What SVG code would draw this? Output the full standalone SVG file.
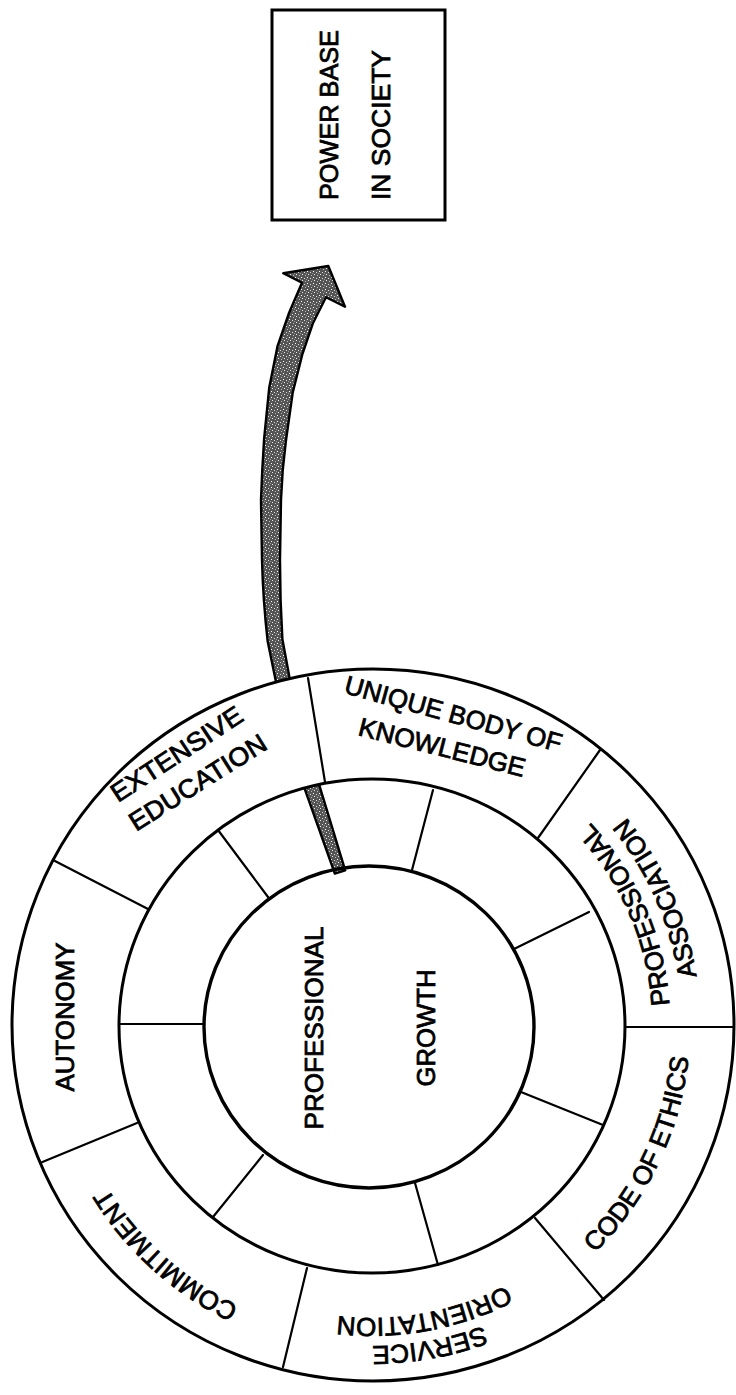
<svg xmlns="http://www.w3.org/2000/svg" width="736" height="1395" viewBox="0 0 736 1395">
<style>
.ring{fill:none;stroke:#000;stroke-width:3}
.div{stroke:#000;stroke-width:2.2;fill:none;stroke-linecap:round}
.lbl{font-family:"Liberation Sans",Arial,Helvetica,sans-serif;font-size:26px;fill:#000;stroke:#000;stroke-width:0.8}
.mid{text-anchor:middle}
.arrow{fill:url(#stipple);stroke:#000;stroke-width:2.4;stroke-linejoin:round}
</style>
<defs>
<pattern id="stipple" width="6" height="6" patternUnits="userSpaceOnUse">
<rect width="6" height="6" fill="#555"/>
<rect x="1" y="1" width="1" height="1" fill="#fff"/>
<rect x="4" y="2" width="1" height="1" fill="#ddd"/>
<rect x="2" y="4" width="1" height="1" fill="#eee"/>
<rect x="5" y="5" width="1" height="1" fill="#bbb"/>
<rect x="0" y="3" width="1" height="1" fill="#999"/>
</pattern>
<path id="p-service" d="M617.9 1230.8 A320 320 0 0 1 213.0 1303.7"/>
<path id="p-orient" d="M596.7 1212.5 A292 292 0 0 1 227.3 1279.6"/>
<path id="p-commit" d="M361.2 1335.8 A310 310 0 0 1 65.0 1069.1"/>
<path id="p-ethics" d="M503.4 1315.6 A318 318 0 0 0 680.0 946.9"/>
<path id="p-prof" d="M657.7 1110.6 A297 297 0 0 0 505.0 759.3"/>
<path id="p-assoc" d="M687.3 1116.1 A329 329 0 0 0 516.4 730.1"/>
</defs>
<rect width="736" height="1395" fill="#fff"/>

<g id="power-base">
<rect x="272" y="10" width="173" height="210" fill="#fff" stroke="#000" stroke-width="3"/>
<text class="lbl mid" transform="translate(338,115) rotate(-90)" textLength="170" lengthAdjust="spacingAndGlyphs">POWER BASE</text>
<text class="lbl mid" transform="translate(390,125) rotate(-90)" textLength="150" lengthAdjust="spacingAndGlyphs">IN SOCIETY</text>
</g>

<g id="connectors">
<path class="arrow" d="M334.8 873.7 L304.8 789.1 L276.1 682.4 L267.6 640.9 Q263 600 262 560 L261 500 Q262 470 264.1 438.9 L269.2 387.8 L277.5 346.2 L289.2 312.5 L302 282.8 L283.3 273.3 L328.3 266 L345 306.7 L326 297.2 L312.8 323.5 L302.5 353.8 L292.8 392.2 L285.9 441.1 Q282 470 281 500 L280 560 Q280 600 282.4 639.1 L289.9 679.6 L319.2 784.9 L345.2 870.3 Z"/>
</g>

<g id="outer-ring">
<path fill="#fff" fill-rule="evenodd" d="M12 1025 A361 356 0 1 0 734 1025 A361 356 0 1 0 12 1025 Z M119 1026 A253 247 0 1 0 625 1026 A253 247 0 1 0 119 1026 Z"/>
<ellipse class="ring" cx="373" cy="1025" rx="361" ry="356"/>
<line class="div" x1="325" y1="782" x2="308" y2="678"/>
<line class="div" x1="538" y1="838" x2="600" y2="750"/>
<line class="div" x1="625" y1="1027" x2="734" y2="1027"/>
<line class="div" x1="535" y1="1218" x2="604" y2="1300"/>
<line class="div" x1="307" y1="1268" x2="283" y2="1367"/>
<line class="div" x1="137" y1="1123" x2="40" y2="1163"/>
<line class="div" x1="148" y1="909" x2="53" y2="860"/>
</g>

<g id="middle-ring">
<ellipse class="ring" cx="372" cy="1026" rx="253" ry="247"/>
<line class="div" x1="412" y1="870" x2="433" y2="790"/>
<line class="div" x1="514" y1="949" x2="589" y2="912"/>
<line class="div" x1="521" y1="1092" x2="603" y2="1125"/>
<line class="div" x1="415" y1="1183" x2="438" y2="1265"/>
<line class="div" x1="263" y1="1155" x2="213" y2="1217"/>
<line class="div" x1="204" y1="1024" x2="119" y2="1024"/>
<line class="div" x1="268" y1="897" x2="218" y2="830"/>
</g>

<g id="core">
<ellipse cx="369" cy="1027" rx="165" ry="161" fill="none" stroke="#000" stroke-width="3.4"/>
<text class="lbl mid" transform="translate(323,1028) rotate(-90)" textLength="203" lengthAdjust="spacingAndGlyphs">PROFESSIONAL</text>
<text class="lbl mid" transform="translate(435,1028) rotate(-90)" textLength="117" lengthAdjust="spacingAndGlyphs">GROWTH</text>
</g>

<g id="seg-education">
<text class="lbl mid" transform="translate(181.5,761.5) rotate(-33.2)" textLength="152" lengthAdjust="spacingAndGlyphs">EXTENSIVE</text>
<text class="lbl mid" transform="translate(202.5,790) rotate(-32.2)" textLength="157" lengthAdjust="spacingAndGlyphs">EDUCATION</text>
</g>
<g id="seg-knowledge">
<text class="lbl mid" transform="translate(451,722.5) rotate(15.4)" textLength="224" lengthAdjust="spacingAndGlyphs">UNIQUE BODY OF</text>
<text class="lbl mid" transform="translate(440,756) rotate(14.2)" textLength="171" lengthAdjust="spacingAndGlyphs">KNOWLEDGE</text>
</g>
<g id="seg-association">
<text class="lbl mid"><textPath href="#p-prof" startOffset="50%">PROFESSIONAL</textPath></text>
<text class="lbl mid"><textPath href="#p-assoc" startOffset="50%">ASSOCIATION</textPath></text>
</g>
<g id="seg-ethics">
<text class="lbl mid"><textPath href="#p-ethics" startOffset="50%">CODE OF ETHICS</textPath></text>
</g>
<g id="seg-service">
<text class="lbl mid"><textPath href="#p-service" startOffset="50%">SERVICE</textPath></text>
<text class="lbl mid"><textPath href="#p-orient" startOffset="50%">ORIENTATION</textPath></text>
</g>
<g id="seg-commitment">
<text class="lbl mid"><textPath href="#p-commit" startOffset="50%">COMMITMENT</textPath></text>
</g>
<g id="seg-autonomy">
<text class="lbl mid" transform="translate(74,1017) rotate(-90)" textLength="149" lengthAdjust="spacingAndGlyphs">AUTONOMY</text>
</g>
</svg>
